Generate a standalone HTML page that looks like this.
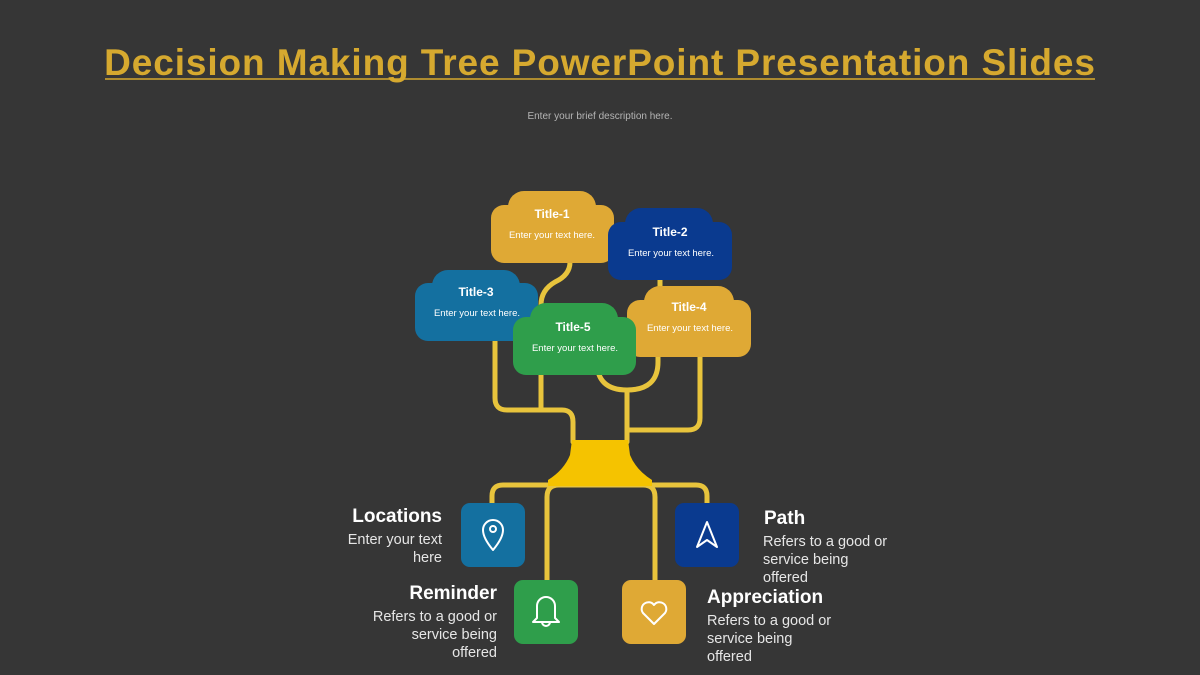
<!DOCTYPE html>
<html><head><meta charset="utf-8"><style>
html,body{margin:0;padding:0;background:#363636;}
svg{display:block}
text{font-family:"Liberation Sans",sans-serif}
</style></head><body>
<svg width="1200" height="675" viewBox="0 0 1200 675" xmlns="http://www.w3.org/2000/svg">
<rect width="1200" height="675" fill="#363636"/>
<text x="600" y="75" text-anchor="middle" font-size="37" font-weight="bold" fill="#d6a92f" letter-spacing="0.9">Decision Making Tree PowerPoint Presentation Slides</text>
<line x1="105" y1="79" x2="1095" y2="79" stroke="#d6a92f" stroke-width="1.5"/>
<text x="600" y="119" text-anchor="middle" font-size="10" fill="#b5b5b5">Enter your brief description here.</text>

<g fill="none" stroke="#e8c43c" stroke-width="5" stroke-linecap="round" stroke-linejoin="round">
<path d="M570 262 Q570 275 555 282 Q541 290 541 305 L541 410"/>
<path d="M495 335 L495 398 Q495 410 507 410 L562 410 Q573 410 573 422 L573 442"/>
<path d="M700 350 L700 418 Q700 430 688 430 L628 430"/>
<path d="M658 355 L658 362 Q658 390 627 390 Q597 390 597 362 L597 360"/>
<path d="M627 390 L627 442"/>
<path d="M660 278 L660 292"/>
<path d="M492 503 L492 496 Q492 485 503 485 L696 485 Q707 485 707 496 L707 503"/>
<path d="M547 580 L547 497 Q547 485 559 485"/>
<path d="M655 580 L655 497 Q655 485 643 485"/>
</g>
<path d="M572 440 L628 440 L630 455 Q636 470 652 480 L652 486 L548 486 L548 480 Q564 470 570 455 Z" fill="#f5c300"/>

<g>
<rect x="508" y="191" width="88" height="40" rx="16" fill="#dfa935"/>
<rect x="491" y="205" width="123" height="58" rx="13" fill="#dfa935"/>
<text x="552" y="218" text-anchor="middle" font-size="12" font-weight="bold" fill="#fff">Title-1</text>
<text x="552" y="238" text-anchor="middle" font-size="9.5" fill="#fff">Enter your text here.</text>

<rect x="625" y="208" width="88" height="40" rx="16" fill="#0a3a8f"/>
<rect x="608" y="222" width="124" height="58" rx="13" fill="#0a3a8f"/>
<text x="670" y="236" text-anchor="middle" font-size="12" font-weight="bold" fill="#fff">Title-2</text>
<text x="671" y="256" text-anchor="middle" font-size="9.5" fill="#fff">Enter your text here.</text>

<rect x="432" y="270" width="88" height="40" rx="16" fill="#1470a0"/>
<rect x="415" y="283" width="123" height="58" rx="13" fill="#1470a0"/>
<text x="476" y="296" text-anchor="middle" font-size="12" font-weight="bold" fill="#fff">Title-3</text>
<text x="477" y="316" text-anchor="middle" font-size="9.5" fill="#fff">Enter your text here.</text>

<rect x="644" y="286" width="90" height="40" rx="16" fill="#dfa935"/>
<rect x="627" y="300" width="124" height="57" rx="13" fill="#dfa935"/>
<text x="689" y="311" text-anchor="middle" font-size="12" font-weight="bold" fill="#fff">Title-4</text>
<text x="690" y="331" text-anchor="middle" font-size="9.5" fill="#fff">Enter your text here.</text>

<rect x="530" y="303" width="88" height="40" rx="16" fill="#2f9e4b"/>
<rect x="513" y="317" width="123" height="58" rx="13" fill="#2f9e4b"/>
<text x="573" y="331" text-anchor="middle" font-size="12" font-weight="bold" fill="#fff">Title-5</text>
<text x="575" y="351" text-anchor="middle" font-size="9.5" fill="#fff">Enter your text here.</text>
</g>

<rect x="461" y="503" width="64" height="64" rx="9" fill="#1470a0"/>
<rect x="675" y="503" width="64" height="64" rx="9" fill="#0a3a8f"/>
<rect x="514" y="580" width="64" height="64" rx="9" fill="#2f9e4b"/>
<rect x="622" y="580" width="64" height="64" rx="9" fill="#dfa935"/>
<g fill="none" stroke="#fff" stroke-width="2" stroke-linejoin="round">
<path d="M493 550 Q483 538 483 530 A10 10 0 0 1 503 530 Q503 538 493 550 Z"/>
<circle cx="493" cy="529" r="3"/>
<path d="M707 522 L697 547 L707 540 L717 547 Z"/>
<path d="M537 618 L537 606 A9 9 0 0 1 555 606 L555 618 L559 622 L533 622 Z"/>
<path d="M542 622 A4 4 0 0 0 550 622"/>
<path d="M654 624 L643 613 A6 6 0 0 1 654 605 A6 6 0 0 1 665 613 Z"/>
</g>

<g fill="#fff">
<text x="442" y="522" text-anchor="end" font-size="19" font-weight="bold">Locations</text>
<text x="442" y="544" text-anchor="end" font-size="14.5" fill="#e6e6e6">Enter your text</text>
<text x="442" y="562" text-anchor="end" font-size="14.5" fill="#e6e6e6">here</text>
<text x="764" y="524" font-size="19" font-weight="bold">Path</text>
<text x="763" y="546" font-size="14.5" fill="#e6e6e6">Refers to a good or</text>
<text x="763" y="564" font-size="14.5" fill="#e6e6e6">service being</text>
<text x="763" y="582" font-size="14.5" fill="#e6e6e6">offered</text>
<text x="497" y="599" text-anchor="end" font-size="19" font-weight="bold">Reminder</text>
<text x="497" y="621" text-anchor="end" font-size="14.5" fill="#e6e6e6">Refers to a good or</text>
<text x="497" y="639" text-anchor="end" font-size="14.5" fill="#e6e6e6">service being</text>
<text x="497" y="657" text-anchor="end" font-size="14.5" fill="#e6e6e6">offered</text>
<text x="707" y="603" font-size="19" font-weight="bold">Appreciation</text>
<text x="707" y="625" font-size="14.5" fill="#e6e6e6">Refers to a good or</text>
<text x="707" y="643" font-size="14.5" fill="#e6e6e6">service being</text>
<text x="707" y="661" font-size="14.5" fill="#e6e6e6">offered</text>
</g>
</svg>
</body></html>
